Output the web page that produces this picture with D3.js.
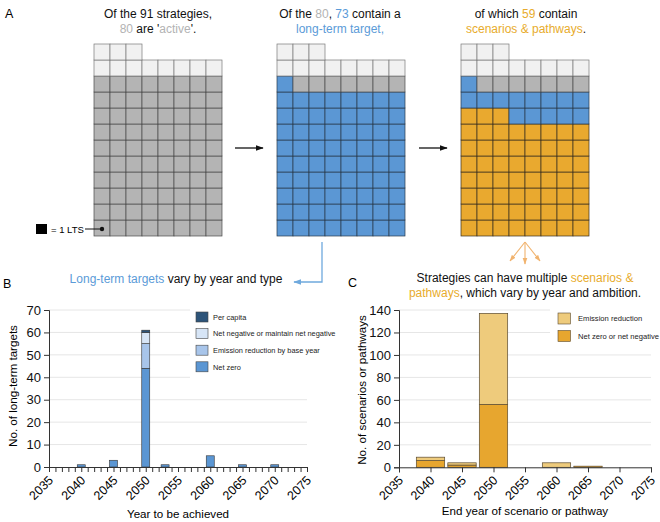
<!DOCTYPE html>
<html><head><meta charset="utf-8">
<script src="https://cdn.jsdelivr.net/npm/d3@7"></script>
<style>
body{margin:0;background:#fff;}
svg{font-family:"Liberation Sans",Arial,Helvetica,sans-serif;}
</style></head>
<body><svg id="c" width="660" height="522"></svg>
<script>
// ---- Data ----
const waffleCats = ["scen","lts","active","inactive"];
const waffle1 = [0, 0, 80, 11];
const waffle2 = [0, 73, 7, 11];
const waffle3 = [59, 14, 7, 11];

const yearsB = [2040, 2045, 2050, 2053, 2060, 2065, 2070];
const ltsSeries = ["Net zero","Emission reduction by base year","Net negative or maintain net negative","Per capita"];
const ltsNetZero   = [1, 3, 44, 1, 5, 1, 1];
const ltsEmission  = [0, 0, 11, 0, 0, 0, 0];
const ltsNegative  = [0, 0, 5, 0, 0, 0, 0];
const ltsPerCapita = [0, 0, 1, 0, 0, 0, 0];
const ticksB = [2035,2040,2045,2050,2055,2060,2065,2070,2075];
const yTicksB = [0,10,20,30,40,50,60,70];

const yearsC = [2040, 2045, 2050, 2060, 2065];
const scSeries = ["Net zero or net negative","Emission reduction"];
const scNetZero = [6, 2, 56, 0, 1];
const scEmission = [3, 2, 81, 4, 0];
const ticksC = [2035,2040,2045,2050,2055,2060,2065,2070,2075];
const yTicksC = [0,20,40,60,80,100,120,140];

// ---- Styles ----
const waffleFill = {scen:"#e9a92f", lts:"#5b97d4", active:"#b4b4b4", inactive:"#f1f1f1"};
const waffleStroke = {scen:"#3a3020", lts:"#2a3a4a", active:"#4a4a4a", inactive:"#7a7a7a"};
const ltsColors = ["#5b96d3","#a8c5ea","#d7e5f6","#2d5479"];
const scColors = ["#e7a62f","#eecb7c"];
const gray="#b3b3b3", blue="#5b9bd8", orange="#e8ac2c";
const TITLE = 12, LABEL = 11.6, TICK = 12.5;

const svg = d3.select("#c");
const defs = svg.append("defs");
function marker(id, color){
  defs.append("marker").attr("id",id).attr("viewBox","0 0 10 10").attr("refX",9).attr("refY",5)
    .attr("markerWidth",6).attr("markerHeight",6).attr("orient","auto-start-reverse")
    .append("path").attr("d","M0,1.5 L10,5 L0,8.5 Z").attr("fill",color);
}
marker("mk","#111"); marker("mb","#6fa9dd"); marker("mo","#f1b36e");

// ---- Titles ----
function rich(x, y, parts, size, anchor){
  const t = svg.append("text").attr("x",x).attr("y",y).attr("text-anchor",anchor||"middle")
    .attr("font-size",size||TITLE).attr("fill","#111");
  parts.forEach(p=>t.append("tspan").text(p[0]).attr("fill",p[1]||"#111"));
  return t;
}
svg.append("text").attr("x",5).attr("y",18).attr("font-size",12.5).text("A");
rich(158,18,[["Of the 91 strategies,"]]);
rich(158,33,[["80",gray],[" are '"],["active",gray],["'."]]);
rich(340,18,[["Of the "],["80",gray],[", "],["73",blue],[" contain a"]]);
rich(340,33,[["long-term target,",blue]]);
rich(526,18,[["of which "],["59",orange],[" contain"]]);
rich(526,33,[["scenarios & pathways",orange],["."]]);

// ---- Waffles ----
const cols = d3.range(8), rows = d3.range(12);
function waffle(x0, counts){
  const xs = d3.scaleBand().domain(cols).range([x0, x0+128]);
  const ys = d3.scaleBand().domain(rows).range([236, 44]);
  const cells = [];
  let i = 0;
  waffleCats.forEach((c,k)=>{ for(let j=0;j<counts[k];j++){ cells.push({i:i++, cat:c}); } });
  svg.append("g").selectAll("rect").data(cells).join("rect")
    .attr("x",d=>xs(d.i%8)).attr("y",d=>ys(Math.floor(d.i/8)))
    .attr("width",xs.bandwidth()).attr("height",ys.bandwidth())
    .attr("fill",d=>waffleFill[d.cat]).attr("stroke",d=>waffleStroke[d.cat]).attr("stroke-width",0.7);
}
waffle(94, waffle1);
waffle(277, waffle2);
waffle(461, waffle3);

// legend = 1 LTS
svg.append("rect").attr("x",36).attr("y",224).attr("width",11).attr("height",10).attr("fill","#000");
svg.append("text").attr("x",51).attr("y",233).attr("font-size",9.5).text("= 1 LTS");
svg.append("line").attr("x1",85).attr("x2",102).attr("y1",229).attr("y2",229).attr("stroke","#111").attr("stroke-width",1);
svg.append("circle").attr("cx",102).attr("cy",229).attr("r",2.2).attr("fill","#111");

// arrows
svg.append("line").attr("x1",235).attr("x2",263).attr("y1",148).attr("y2",148).attr("stroke","#111").attr("stroke-width",1.3).attr("marker-end","url(#mk)");
svg.append("line").attr("x1",419).attr("x2",447).attr("y1",148).attr("y2",148).attr("stroke","#111").attr("stroke-width",1.3).attr("marker-end","url(#mk)");
svg.append("path").attr("d","M322,242 L322,282 L294,282").attr("fill","none").attr("stroke","#6fa9dd").attr("stroke-width",1.3).attr("marker-end","url(#mb)");
[[510,261],[525,264],[540,261]].forEach(p=>{
  svg.append("line").attr("x1",525).attr("y1",242).attr("x2",p[0]).attr("y2",p[1])
    .attr("stroke","#f1b36e").attr("stroke-width",1.1).attr("marker-end","url(#mo)");
});

// ---- Panel B ----
svg.append("text").attr("x",3).attr("y",288).attr("font-size",12.5).text("B");
rich(176,283,[["Long-term targets",blue],[" vary by year and type"]]);
const xB = d3.scaleLinear().domain([2035,2075]).range([49,307]);
const yB = d3.scaleLinear().domain([0,70]).range([467,310]);
const gB = svg.append("g");
gB.selectAll("line.grid").data(yTicksB.slice(1)).join("line").attr("class","grid")
  .attr("x1",49).attr("x2",307).attr("y1",d=>yB(d)).attr("y2",d=>yB(d)).attr("stroke","#e6e6e6").attr("stroke-width",1);
const stackB = d3.stack().keys([0,1,2,3])(yearsB.map((y,i)=>({year:y,0:ltsNetZero[i],1:ltsEmission[i],2:ltsNegative[i],3:ltsPerCapita[i]})));
stackB.forEach((s,k)=>{
  gB.append("g").selectAll("rect").data(s.filter(d=>d[1]>d[0])).join("rect")
    .attr("x",d=>xB(d.data.year-0.62)).attr("width",xB(2036.24)-xB(2035))
    .attr("y",d=>yB(d[1])).attr("height",d=>yB(d[0])-yB(d[1]))
    .attr("fill",ltsColors[k]).attr("stroke","#333").attr("stroke-width",0.6);
});
// axes B
const axB = gB.append("g").attr("transform","translate(0,467)")
  .call(d3.axisBottom(xB).tickValues(d3.range(2035,2076)).tickSize(5).tickFormat(""));
axB.select(".domain").attr("stroke","#333");
axB.selectAll(".tick line").attr("stroke","#333");
gB.selectAll("text.xt").data(ticksB).join("text").attr("class","xt").attr("font-size",TICK).attr("text-anchor","end")
  .attr("transform",d=>`translate(${xB(d)+5},${481}) rotate(-45)`).text(d=>d);
const ayB = gB.append("g").attr("transform","translate(49,0)")
  .call(d3.axisLeft(yB).tickValues(yTicksB).tickSize(5).tickPadding(3));
ayB.selectAll("text").attr("font-size",13).attr("font-family","Liberation Sans, Arial").attr("fill","#111");
ayB.select(".domain").attr("stroke","#333");
ayB.selectAll(".tick line").attr("stroke","#333");
svg.append("text").attr("transform","translate(17,386) rotate(-90)").attr("text-anchor","middle").attr("font-size",LABEL).text("No. of long-term targets");
svg.append("text").attr("x",178).attr("y",518).attr("text-anchor","middle").attr("font-size",LABEL).text("Year to be achieved");
// legend B
const legB = svg.append("g");
legB.append("rect").attr("x",190).attr("y",306).attr("width",140).attr("height",72).attr("fill","#fff");
[3,2,1,0].forEach((k,j)=>{
  const y = 312 + j*16.6;
  legB.append("rect").attr("x",196).attr("y",y).attr("width",12).attr("height",10).attr("fill",ltsColors[k]).attr("stroke","#444").attr("stroke-width",0.6);
  legB.append("text").attr("x",213).attr("y",y+7.8).attr("font-size",7.4).attr("fill","#222").text(ltsSeries[k]);
});

// ---- Panel C ----
svg.append("text").attr("x",348).attr("y",287).attr("font-size",12.5).text("C");
rich(525,282,[["Strategies can have multiple "],["scenarios &",orange]]);
rich(525,297,[["pathways",orange],[", which vary by year and ambition."]]);
const xC = d3.scaleLinear().domain([2035,2075]).range([399,651]);
const yC = d3.scaleLinear().domain([0,140]).range([467.3,310]);
const gC = svg.append("g");
gC.selectAll("line.grid").data(yTicksC.slice(1)).join("line").attr("class","grid")
  .attr("x1",399).attr("x2",651).attr("y1",d=>yC(d)).attr("y2",d=>yC(d)).attr("stroke","#e6e6e6").attr("stroke-width",1);
const stackC = d3.stack().keys([0,1])(yearsC.map((y,i)=>({year:y,0:scNetZero[i],1:scEmission[i]})));
stackC.forEach((s,k)=>{
  gC.append("g").selectAll("rect").data(s.filter(d=>d[1]>d[0])).join("rect")
    .attr("x",d=>xC(d.data.year-2.25)).attr("width",xC(2039.5)-xC(2035))
    .attr("y",d=>yC(d[1])).attr("height",d=>yC(d[0])-yC(d[1]))
    .attr("fill",scColors[k]).attr("stroke","#5a4a30").attr("stroke-width",0.7);
});
const axC = gC.append("g").attr("transform","translate(0,467.3)")
  .call(d3.axisBottom(xC).tickValues(ticksC).tickSize(5).tickFormat(""));
axC.select(".domain").attr("stroke","#333");
axC.selectAll(".tick line").attr("stroke","#333");
gC.selectAll("text.xt").data(ticksC).join("text").attr("class","xt").attr("font-size",TICK).attr("text-anchor","end")
  .attr("transform",d=>`translate(${xC(d)+5},${481}) rotate(-45)`).text(d=>d);
const ayC = gC.append("g").attr("transform","translate(399,0)")
  .call(d3.axisLeft(yC).tickValues(yTicksC).tickSize(5).tickPadding(3));
ayC.selectAll("text").attr("font-size",13).attr("font-family","Liberation Sans, Arial").attr("fill","#111");
ayC.select(".domain").attr("stroke","#333");
ayC.selectAll(".tick line").attr("stroke","#333");
svg.append("text").attr("transform","translate(366,390) rotate(-90)").attr("text-anchor","middle").attr("font-size",LABEL).text("No. of scenarios or pathways");
svg.append("text").attr("x",525).attr("y",515).attr("text-anchor","middle").attr("font-size",LABEL).text("End year of scenario or pathway");
const legC = svg.append("g");
legC.append("rect").attr("x",550).attr("y",306).attr("width",110).attr("height",42).attr("fill","#fff");
[1,0].forEach((k,j)=>{
  const y = 313 + j*17.5;
  legC.append("rect").attr("x",558).attr("y",y).attr("width",12.5).attr("height",11).attr("fill",scColors[k]).attr("stroke","#5a4a30").attr("stroke-width",0.6);
  legC.append("text").attr("x",578).attr("y",y+8).attr("font-size",7.6).attr("fill","#222").text(scSeries[k]);
});
</script></body></html>
